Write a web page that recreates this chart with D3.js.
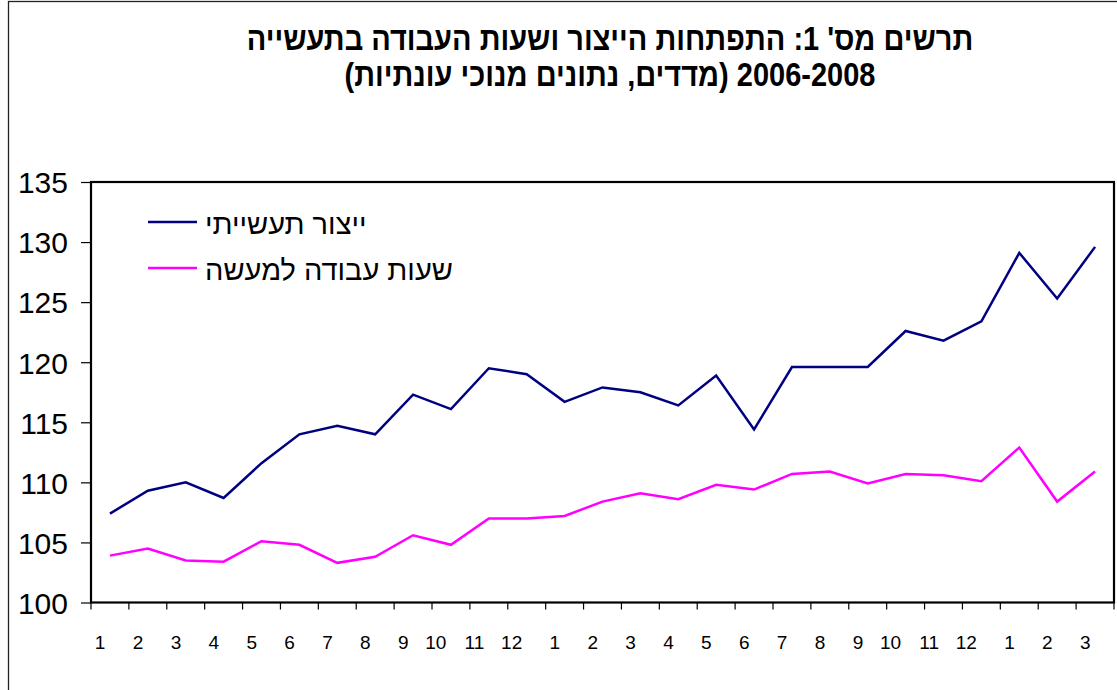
<!DOCTYPE html>
<html>
<head>
<meta charset="utf-8">
<script src="https://cdn.jsdelivr.net/npm/d3@7"></script>
<style>
	body { margin: 0; background: #fff; }
	svg { display: block; font-family: Arial, "Liberation Sans", sans-serif; }
</style>
</head>
<body>
<svg id="chart" width="1117" height="690"></svg>
<script>
// months Jan 2006 .. Mar 2008
const months = ['1','2','3','4','5','6','7','8','9','10','11','12',
	'1','2','3','4','5','6','7','8','9','10','11','12',
	'1','2','3'];
const production = [107.4, 109.3, 110.0, 108.7, 111.6, 114.0, 114.7, 114.0, 117.3, 116.1, 119.5, 119.0,
	116.7, 117.9, 117.5, 116.4, 118.9, 114.4, 119.6, 119.6, 119.6, 122.6, 121.8, 123.4,
	129.1, 125.3, 129.6];
const workHours = [103.9, 104.5, 103.5, 103.4, 105.1, 104.8, 103.3, 103.8, 105.6, 104.8, 107.0, 107.0,
	107.2, 108.4, 109.1, 108.6, 109.8, 109.4, 110.7, 110.9, 109.9, 110.7, 110.6, 110.1,
	112.9, 108.4, 110.9];
const yTicks = [100, 105, 110, 115, 120, 125, 130, 135];
const seriesNames = ['ייצור תעשייתי', 'שעות עבודה למעשה'];
const seriesColors = ['#000080', '#ff00ff'];
const titleLines = ['תרשים מס\' 1: התפתחות הייצור ושעות העבודה בתעשייה', '2006-2008 (מדדים, נתונים מנוכי עונתיות)'];

const svg = d3.select('#chart');
const plot = { left: 91, top: 182, right: 1114, bottom: 602.5 };

// outer frame
svg.append('rect')
	.attr('x', 8.5).attr('y', 1.5)
	.attr('width', 1200).attr('height', 800)
	.attr('fill', 'none').attr('stroke', '#222').attr('stroke-width', 1.3);

// title
svg.append('g').selectAll('text')
	.data(titleLines)
	.enter().append('text')
	.attr('x', 610)
	.attr('y', function(d, i) { return 50 + i * 36; })
	.attr('text-anchor', 'middle')
	.attr('direction', 'rtl')
	.style('font-size', '29px')
	.style('font-weight', 'bold')
	.attr('transform', function(d, i) { return 'translate(610,' + (50 + i * 36) + ') scale(1,1.12) translate(-610,' + (-(50 + i * 36)) + ')'; })
	.text(function(d) { return d; });

const x = d3.scaleBand()
	.domain(d3.range(months.length))
	.range([plot.left, plot.right]);

const y = d3.scaleLinear()
	.domain([100, 135])
	.range([plot.bottom, plot.top]);

// plot frame
svg.append('rect')
	.attr('x', plot.left).attr('y', plot.top)
	.attr('width', plot.right - plot.left).attr('height', plot.bottom - plot.top)
	.attr('fill', 'none').attr('stroke', '#000').attr('stroke-width', 2.2);

// y axis
var yAxis = svg.append('g')
	.attr('transform', 'translate(' + plot.left + ',0)')
	.call(d3.axisLeft(y).tickValues(yTicks).tickSize(10).tickPadding(13));
yAxis.select('.domain').remove();
yAxis.selectAll('line').attr('stroke', '#000').attr('stroke-width', 1.2);
yAxis.selectAll('text')
	.style('font-size', '30px')
	.style('font-family', 'Arial, "Liberation Sans", sans-serif')
	.attr('fill', '#000')
	.attr('dy', '0.36em');

// x axis: ticks on band boundaries, labels near band centres
var xAxis = svg.append('g').attr('transform', 'translate(0,' + plot.bottom + ')');
xAxis.selectAll('.tick')
	.data(d3.range(months.length + 1))
	.enter().append('line')
	.attr('x1', function(i) { return plot.left + i * x.step(); })
	.attr('x2', function(i) { return plot.left + i * x.step(); })
	.attr('y1', 0).attr('y2', 7)
	.attr('stroke', '#000').attr('stroke-width', 1.2);
xAxis.selectAll('text')
	.data(months)
	.enter().append('text')
	.attr('x', function(d, i) { return x(i) + x.bandwidth() / 2 - 4.5; })
	.attr('y', 46)
	.attr('text-anchor', 'end')
	.style('font-size', '19px')
	.text(function(d) { return d; });

// lines
var line = d3.line()
	.x(function(d, i) { return x(i) + x.bandwidth() / 2; })
	.y(function(d) { return y(d); });

[production, workHours].forEach(function(series, k) {
	svg.append('path')
		.datum(series)
		.attr('d', line)
		.attr('fill', 'none')
		.attr('stroke', seriesColors[k])
		.attr('stroke-width', 2.5)
		.attr('stroke-linejoin', 'miter');
});

// legend
var legend = svg.append('g');
seriesNames.forEach(function(name, k) {
	var ly = 222 + k * 46;
	legend.append('line')
		.attr('x1', 148).attr('x2', 197)
		.attr('y1', ly).attr('y2', ly)
		.attr('stroke', seriesColors[k]).attr('stroke-width', 2.5);
	legend.append('text')
		.attr('x', 205).attr('y', ly)
		.attr('dy', '0.4em')
		.attr('text-anchor', 'start')
		.style('font-size', '29px')
		.text(name);
});
</script>
</body>
</html>
